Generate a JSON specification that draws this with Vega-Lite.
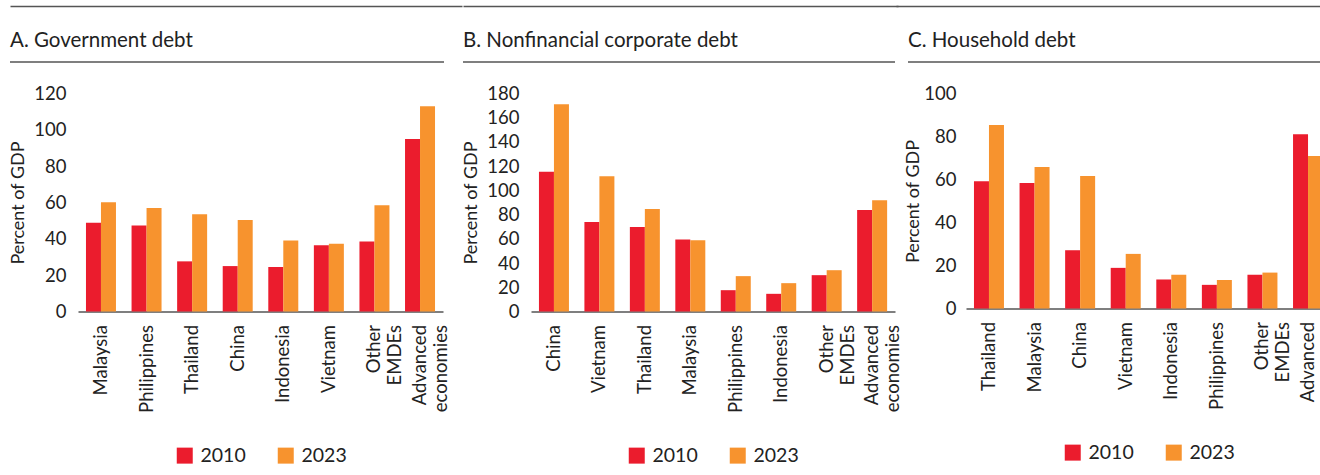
{
  "$schema": "https://vega.github.io/schema/vega-lite/v6.json",
  "padding": {"left": 9, "top": 6, "right": 0, "bottom": 0},
  "background": "white",
  "datasets": {
    "gov": [
      {"country": "Malaysia", "year": "2010", "value": 48.8},
      {"country": "Malaysia", "year": "2023", "value": 60.1},
      {"country": "Philippines", "year": "2010", "value": 47.3},
      {"country": "Philippines", "year": "2023", "value": 57.0},
      {"country": "Thailand", "year": "2010", "value": 27.6},
      {"country": "Thailand", "year": "2023", "value": 53.5},
      {"country": "China", "year": "2010", "value": 25.0},
      {"country": "China", "year": "2023", "value": 50.4},
      {"country": "Indonesia", "year": "2010", "value": 24.5},
      {"country": "Indonesia", "year": "2023", "value": 39.1},
      {"country": "Vietnam", "year": "2010", "value": 36.5},
      {"country": "Vietnam", "year": "2023", "value": 37.3},
      {"country": "Other EMDEs", "year": "2010", "value": 38.6},
      {"country": "Other EMDEs", "year": "2023", "value": 58.5},
      {"country": "Advanced economies", "year": "2010", "value": 95.0},
      {"country": "Advanced economies", "year": "2023", "value": 113.0}
    ],
    "corp": [
      {"country": "China", "year": "2010", "value": 115.4},
      {"country": "China", "year": "2023", "value": 171.2},
      {"country": "Vietnam", "year": "2010", "value": 74.0},
      {"country": "Vietnam", "year": "2023", "value": 111.6},
      {"country": "Thailand", "year": "2010", "value": 69.8},
      {"country": "Thailand", "year": "2023", "value": 84.7},
      {"country": "Malaysia", "year": "2010", "value": 59.4},
      {"country": "Malaysia", "year": "2023", "value": 58.9},
      {"country": "Philippines", "year": "2010", "value": 17.6},
      {"country": "Philippines", "year": "2023", "value": 29.2},
      {"country": "Indonesia", "year": "2010", "value": 14.6},
      {"country": "Indonesia", "year": "2023", "value": 23.4},
      {"country": "Other EMDEs", "year": "2010", "value": 30.0},
      {"country": "Other EMDEs", "year": "2023", "value": 34.1},
      {"country": "Advanced economies", "year": "2010", "value": 83.8},
      {"country": "Advanced economies", "year": "2023", "value": 91.8}
    ],
    "hh": [
      {"country": "Thailand", "year": "2010", "value": 59.2},
      {"country": "Thailand", "year": "2023", "value": 85.3},
      {"country": "Malaysia", "year": "2010", "value": 58.4},
      {"country": "Malaysia", "year": "2023", "value": 65.8},
      {"country": "China", "year": "2010", "value": 27.1},
      {"country": "China", "year": "2023", "value": 61.6},
      {"country": "Vietnam", "year": "2010", "value": 18.9},
      {"country": "Vietnam", "year": "2023", "value": 25.4},
      {"country": "Indonesia", "year": "2010", "value": 13.5},
      {"country": "Indonesia", "year": "2023", "value": 15.7},
      {"country": "Philippines", "year": "2010", "value": 11.0},
      {"country": "Philippines", "year": "2023", "value": 13.3},
      {"country": "Other EMDEs", "year": "2010", "value": 15.7},
      {"country": "Other EMDEs", "year": "2023", "value": 16.7},
      {"country": "Advanced economies", "year": "2010", "value": 81.1},
      {"country": "Advanced economies", "year": "2023", "value": 70.9}
    ],
    "headers": [
      {"panel": "A", "title": "A. Government debt", "start": 0, "end": 0.9602},
      {"panel": "B", "title": "B. Nonfinancial corporate debt", "start": 0, "end": 0.9931},
      {"panel": "C", "title": "C. Household debt", "start": 0.0245, "end": 1}
    ]
  },
  "config": {
    "view": {"stroke": null},
    "font": "Lato",
    "axis": {
      "labelColor": "#222222",
      "titleColor": "#222222",
      "domainColor": "#555555",
      "domainWidth": 1.5,
      "ticks": false,
      "grid": false,
      "titleFontWeight": "normal"
    },
    "axisX": {"labelFontSize": 18.5, "labelPadding": 13, "labelAngle": -90, "labelLineHeight": 21},
    "axisY": {"labelFontSize": 18.5, "labelPadding": 12, "titleFontSize": 18, "titlePadding": 6, "domain": false},
    "legend": {
      "orient": "bottom",
      "direction": "horizontal",
      "title": null,
      "symbolType": "square",
      "symbolSize": 256,
      "symbolStrokeWidth": 0,
      "symbolOpacity": 1,
      "labelFontSize": 19.5,
      "labelColor": "#222222",
      "labelOffset": 6,
      "columnPadding": 30,
      "offset": 33,
      "layout": {"bottom": {"anchor": "middle"}}
    }
  },
  "columns": 3,
  "align": "each",
  "bounds": "full",
  "spacing": {"row": 21.5, "column": -68},
  "resolve": {"scale": {"color": "independent"}, "legend": {"color": "independent"}},
  "concat": [
    {
      "width": 365,
      "height": 56,
      "data": {"name": "headers"},
      "transform": [{"filter": "datum.panel == 'A'"}],
      "layer": [
        {"mark": {"type": "rule", "color": "#555555", "strokeWidth": 1.5}, "encoding": {"x": {"field": "start", "type": "quantitative", "scale": {"domain": [0, 1], "range": [-68, 384], "nice": false, "zero": false}, "axis": {"orient": "top", "title": null, "labels": false}}, "x2": {"field": "end"}, "y": {"datum": 0, "type": "quantitative", "scale": {"domain": [0, 1], "nice": false}, "axis": null}}},
        {"mark": {"type": "text", "align": "left", "baseline": "alphabetic", "fontSize": 20.5, "color": "#222222"}, "encoding": {"x": {"field": "start", "type": "quantitative"}, "y": {"datum": 0.27, "type": "quantitative"}, "text": {"field": "title"}}}
      ]
    },
    {
      "width": 364,
      "height": 56,
      "data": {"name": "headers"},
      "transform": [{"filter": "datum.panel == 'B'"}],
      "layer": [
        {"mark": {"type": "rule", "color": "#555555", "strokeWidth": 1.5}, "encoding": {"x": {"field": "start", "type": "quantitative", "scale": {"domain": [0, 1], "range": [-68, 367], "nice": false, "zero": false}, "axis": {"orient": "top", "title": null, "labels": false}}, "x2": {"field": "end"}, "y": {"datum": 0, "type": "quantitative", "scale": {"domain": [0, 1], "nice": false}, "axis": null}}},
        {"mark": {"type": "text", "align": "left", "baseline": "alphabetic", "fontSize": 20.5, "color": "#222222"}, "encoding": {"x": {"field": "start", "type": "quantitative"}, "y": {"datum": 0.27, "type": "quantitative"}, "text": {"field": "title"}}}
      ]
    },
    {
      "width": 365,
      "height": 56,
      "data": {"name": "headers"},
      "transform": [{"filter": "datum.panel == 'C'"}],
      "layer": [
        {"mark": {"type": "rule", "color": "#555555", "strokeWidth": 1.5}, "encoding": {"x": {"field": "start", "type": "quantitative", "scale": {"domain": [0, 1], "range": [-70, 420], "nice": false, "zero": false}, "axis": {"orient": "top", "title": null, "labels": false}}, "x2": {"field": "end"}, "y": {"datum": 0, "type": "quantitative", "scale": {"domain": [0, 1], "nice": false}, "axis": null}}},
        {"mark": {"type": "text", "align": "left", "baseline": "alphabetic", "fontSize": 20.5, "color": "#222222"}, "encoding": {"x": {"field": "start", "type": "quantitative"}, "y": {"datum": 0.27, "type": "quantitative"}, "text": {"field": "title"}}}
      ]
    },
    {
      "width": 365,
      "height": 218,
      "data": {"name": "gov"},
      "mark": {"type": "bar"},
      "encoding": {
        "x": {
          "field": "country", "type": "nominal",
          "sort": ["Malaysia", "Philippines", "Thailand", "China", "Indonesia", "Vietnam", "Other EMDEs", "Advanced economies"],
          "scale": {"paddingInner": 0.342, "paddingOuter": 0.175},
          "axis": {"title": null, "labelExpr": "datum.label == 'Other EMDEs' ? ['Other', 'EMDEs'] : datum.label == 'Advanced economies' ? ['Advanced', 'economies'] : datum.label"}
        },
        "xOffset": {"field": "year", "type": "nominal"},
        "y": {
          "field": "value", "type": "quantitative",
          "scale": {"domain": [0, 120], "nice": false},
          "axis": {"title": "Percent of GDP", "values": [0, 20, 40, 60, 80, 100, 120]}
        },
        "color": {"field": "year", "type": "nominal", "scale": {"range": ["#EB1C2D", "#F7932E"]}}
      }
    },
    {
      "width": 364,
      "height": 218,
      "data": {"name": "corp"},
      "mark": {"type": "bar"},
      "encoding": {
        "x": {
          "field": "country", "type": "nominal",
          "sort": ["China", "Vietnam", "Thailand", "Malaysia", "Philippines", "Indonesia", "Other EMDEs", "Advanced economies"],
          "scale": {"paddingInner": 0.342, "paddingOuter": 0.175},
          "axis": {"title": null, "labelExpr": "datum.label == 'Other EMDEs' ? ['Other', 'EMDEs'] : datum.label == 'Advanced economies' ? ['Advanced', 'economies'] : datum.label"}
        },
        "xOffset": {"field": "year", "type": "nominal"},
        "y": {
          "field": "value", "type": "quantitative",
          "scale": {"domain": [0, 180], "nice": false},
          "axis": {"title": "Percent of GDP", "values": [0, 20, 40, 60, 80, 100, 120, 140, 160, 180]}
        },
        "color": {"field": "year", "type": "nominal", "scale": {"range": ["#EB1C2D", "#F7932E"]}}
      }
    },
    {
      "width": 365,
      "height": 215,
      "data": {"name": "hh"},
      "mark": {"type": "bar"},
      "encoding": {
        "x": {
          "field": "country", "type": "nominal",
          "sort": ["Thailand", "Malaysia", "China", "Vietnam", "Indonesia", "Philippines", "Other EMDEs", "Advanced economies"],
          "scale": {"paddingInner": 0.342, "paddingOuter": 0.175},
          "axis": {"title": null, "labelExpr": "datum.label == 'Other EMDEs' ? ['Other', 'EMDEs'] : datum.label == 'Advanced economies' ? ['Advanced', 'economies'] : datum.label"}
        },
        "xOffset": {"field": "year", "type": "nominal"},
        "y": {
          "field": "value", "type": "quantitative",
          "scale": {"domain": [0, 100], "nice": false},
          "axis": {"title": "Percent of GDP", "titlePadding": 1, "labelPadding": 10, "values": [0, 20, 40, 60, 80, 100]}
        },
        "color": {"field": "year", "type": "nominal", "scale": {"range": ["#EB1C2D", "#F7932E"]}}
      }
    }
  ]
}
